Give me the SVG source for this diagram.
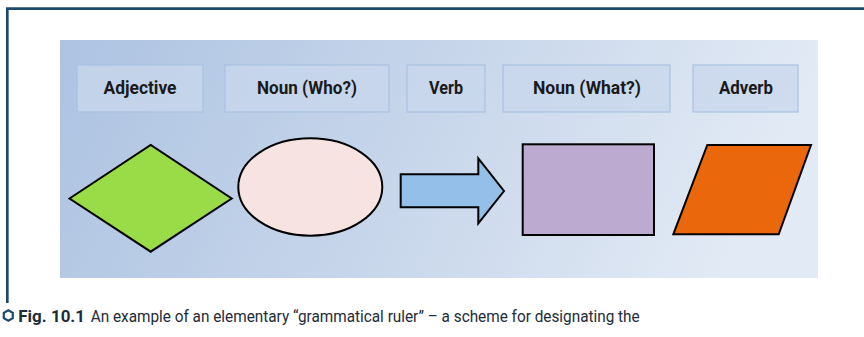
<svg xmlns="http://www.w3.org/2000/svg" width="864" height="337" viewBox="0 0 864 337">
<defs>
<linearGradient id="bg" x1="0" y1="0" x2="1" y2="0.15">
<stop offset="0" stop-color="#adc3e2"/>
<stop offset="0.5" stop-color="#c6d5ea"/>
<stop offset="1" stop-color="#e2eaf5"/>
</linearGradient>
<style>
.lbl rect{fill:#c8d7ec;fill-opacity:0.75;stroke:#a9c1e2;stroke-width:1.2}
.lbl text{font-family:"Roboto","Liberation Sans",sans-serif;font-weight:700;font-size:18.5px;fill:#1a1a1a;text-anchor:middle}
.shape{stroke:#000;stroke-width:2;stroke-linejoin:miter}
.cap{font-family:"Roboto","Liberation Sans",sans-serif;font-size:16px;fill:#1e2b38}
</style>
</defs>
<path d="M7.3 303 V8.7 H864" fill="none" stroke="#1c4a6e" stroke-width="2.7"/>
<rect x="60" y="40" width="758" height="238" fill="url(#bg)"/>
<g id="label-adjective" class="lbl"><rect x="77" y="65" width="126" height="47"/><text x="140" y="94" textLength="73" lengthAdjust="spacingAndGlyphs">Adjective</text></g>
<g id="label-noun-who" class="lbl"><rect x="225" y="65" width="164" height="47"/><text x="307" y="94" textLength="100" lengthAdjust="spacingAndGlyphs">Noun (Who?)</text></g>
<g id="label-verb" class="lbl"><rect x="407" y="65" width="78" height="47"/><text x="446" y="94" textLength="34" lengthAdjust="spacingAndGlyphs">Verb</text></g>
<g id="label-noun-what" class="lbl"><rect x="503" y="65" width="167" height="47"/><text x="587" y="94" textLength="108" lengthAdjust="spacingAndGlyphs">Noun (What?)</text></g>
<g id="label-adverb" class="lbl"><rect x="693" y="65" width="105" height="47"/><text x="746" y="94" textLength="54" lengthAdjust="spacingAndGlyphs">Adverb</text></g>
<g id="shape-diamond"><polygon class="shape" points="69.5,198.5 150.7,145 231.7,198.5 150.7,251.7" fill="#9adb48"/></g>
<g id="shape-ellipse"><ellipse class="shape" cx="310.3" cy="187" rx="72" ry="48.7" fill="#f6e3e2"/></g>
<g id="shape-arrow"><polygon class="shape" points="400.7,174.3 478.3,174.3 478.3,158.3 504,191 478.3,223.3 478.3,207.3 400.7,207.3" fill="#93bfe9"/></g>
<g id="shape-rect"><rect class="shape" x="522.7" y="144.3" width="131.3" height="90.7" fill="#bcaad0"/></g>
<g id="shape-parallelogram"><polygon class="shape" points="707.3,145 811,145 778.7,234.3 673.3,234.3" fill="#eb670b"/></g>
<g id="caption">
<polygon points="8.3,310.3 12.8,312.9 12.8,318.1 8.3,320.7 3.8,318.1 3.8,312.9" fill="none" stroke="#1c4a6e" stroke-width="2.2"/>
<text class="cap" y="321.5"><tspan x="18.3" font-weight="700" textLength="66.7" lengthAdjust="spacingAndGlyphs">Fig. 10.1</tspan><tspan x="90.7" textLength="549" lengthAdjust="spacingAndGlyphs">An example of an elementary “grammatical ruler” – a scheme for designating the</tspan></text>
</g>
</svg>
